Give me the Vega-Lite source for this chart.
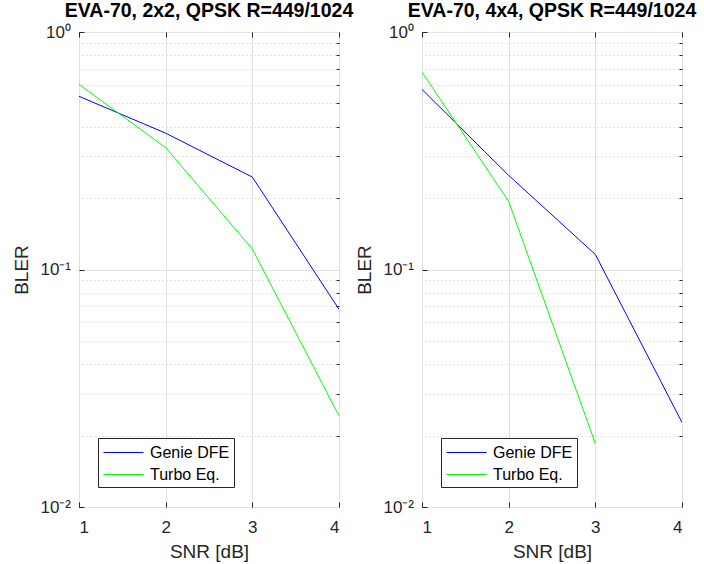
{
  "$schema": "https://vega.github.io/schema/vega-lite/v6.json",
  "background": "white",
  "padding": {"left": 12, "top": 0, "right": 5, "bottom": 5},
  "bounds": "flush",
  "spacing": 83,
  "config": {
    "font": "Liberation Sans",
    "view": {"stroke": "#262626", "strokeWidth": 1},
    "axis": {
      "labelFont": "Liberation Sans", "titleFont": "Liberation Sans",
      "labelFontSize": 17, "titleFontSize": 19, "titleFontWeight": "normal",
      "labelColor": "#262626", "titleColor": "#262626",
      "domain": false, "tickColor": "#262626",
      "gridColor": "#e0e0e0", "gridOpacity": 1
    },
    "title": {"font": "Liberation Sans", "fontSize": 19.5, "fontWeight": "bold", "color": "#000000", "anchor": "middle", "offset": 2}
  },
  "datasets": {
    "d2": [
      {"snr": 1, "bler": 0.536, "method": "Genie DFE"},
      {"snr": 2, "bler": 0.375, "method": "Genie DFE"},
      {"snr": 3, "bler": 0.245, "method": "Genie DFE"},
      {"snr": 4, "bler": 0.068, "method": "Genie DFE"},
      {"snr": 1, "bler": 0.602, "method": "Turbo Eq."},
      {"snr": 2, "bler": 0.326, "method": "Turbo Eq."},
      {"snr": 3, "bler": 0.122, "method": "Turbo Eq."},
      {"snr": 4, "bler": 0.0242, "method": "Turbo Eq."}
    ],
    "d4": [
      {"snr": 1, "bler": 0.573, "method": "Genie DFE"},
      {"snr": 2, "bler": 0.249, "method": "Genie DFE"},
      {"snr": 3, "bler": 0.1157, "method": "Genie DFE"},
      {"snr": 4, "bler": 0.0227, "method": "Genie DFE"},
      {"snr": 1, "bler": 0.678, "method": "Turbo Eq."},
      {"snr": 2, "bler": 0.1934, "method": "Turbo Eq."},
      {"snr": 3, "bler": 0.0185, "method": "Turbo Eq."}
    ]
  },
  "resolve": {"legend": {"color": "independent"}},
  "hconcat": [
    {
      "width": 260, "height": 475,
      "title": "EVA-70, 2x2, QPSK R=449/1024",
      "data": {"name": "d2"},
      "resolve": {"axis": {"x": "independent", "y": "independent"}},
      "layer": [
        {
          "mark": {"type": "line", "strokeOpacity": 0},
          "encoding": {
            "x": {"field": "snr", "type": "quantitative", "scale": {"domain": [1, 4], "nice": false},
              "axis": {"orient": "top", "values": [1, 2, 3, 4], "labels": false, "title": null, "grid": false, "tickSize": -5}},
            "y": {"field": "bler", "type": "quantitative", "scale": {"type": "log", "domain": [0.01, 1], "nice": false},
              "axis": {"orient": "right", "values": [0.02, 0.03, 0.04, 0.05, 0.06, 0.07, 0.08, 0.09, 0.2, 0.3, 0.4, 0.5, 0.6, 0.7, 0.8, 0.9], "labels": false, "title": null, "grid": true, "gridDash": [1, 3], "gridColor": "#c8c8c8", "tickSize": -3}},
            "detail": {"field": "method"}
          }
        },
        {
          "mark": {"type": "line", "strokeWidth": 1, "clip": true},
          "encoding": {
            "x": {"field": "snr", "type": "quantitative", "scale": {"domain": [1, 4], "nice": false},
              "axis": {"orient": "bottom", "values": [1, 2, 3, 4], "title": "SNR [dB]", "grid": true, "tickSize": -5, "labelPadding": 17, "titlePadding": 7}},
            "y": {"field": "bler", "type": "quantitative", "scale": {"type": "log", "domain": [0.01, 1], "nice": false},
              "axis": {"orient": "left", "values": [0.01, 0.1, 1], "title": "BLER", "grid": true, "tickSize": -5, "labelPadding": 13.5, "titlePadding": 8,
                "labelExpr": "datum.value >= 0.99 ? '10⁰' : datum.value >= 0.099 ? '10⁻¹' : '10⁻²'"}},
            "color": {"field": "method", "type": "nominal",
              "scale": {"domain": ["Genie DFE", "Turbo Eq."], "range": ["#0000ff", "#00ff00"]},
              "legend": {"orient": "none", "legendX": 19, "legendY": 406, "title": null, "fillColor": "white", "strokeColor": "#262626", "padding": 4, "symbolType": "M-2,0H2", "symbolSize": 400, "symbolStrokeWidth": 1, "symbolOffset": 11, "labelOffset": 16, "labelFontSize": 16, "labelColor": "#000000", "labelFont": "Liberation Sans", "rowPadding": 3}}
          }
        }
      ]
    },
    {
      "width": 260, "height": 475,
      "title": "EVA-70, 4x4, QPSK R=449/1024",
      "data": {"name": "d4"},
      "resolve": {"axis": {"x": "independent", "y": "independent"}},
      "layer": [
        {
          "mark": {"type": "line", "strokeOpacity": 0},
          "encoding": {
            "x": {"field": "snr", "type": "quantitative", "scale": {"domain": [1, 4], "nice": false},
              "axis": {"orient": "top", "values": [1, 2, 3, 4], "labels": false, "title": null, "grid": false, "tickSize": -5}},
            "y": {"field": "bler", "type": "quantitative", "scale": {"type": "log", "domain": [0.01, 1], "nice": false},
              "axis": {"orient": "right", "values": [0.02, 0.03, 0.04, 0.05, 0.06, 0.07, 0.08, 0.09, 0.2, 0.3, 0.4, 0.5, 0.6, 0.7, 0.8, 0.9], "labels": false, "title": null, "grid": true, "gridDash": [1, 3], "gridColor": "#c8c8c8", "tickSize": -3}},
            "detail": {"field": "method"}
          }
        },
        {
          "mark": {"type": "line", "strokeWidth": 1, "clip": true},
          "encoding": {
            "x": {"field": "snr", "type": "quantitative", "scale": {"domain": [1, 4], "nice": false},
              "axis": {"orient": "bottom", "values": [1, 2, 3, 4], "title": "SNR [dB]", "grid": true, "tickSize": -5, "labelPadding": 17, "titlePadding": 7}},
            "y": {"field": "bler", "type": "quantitative", "scale": {"type": "log", "domain": [0.01, 1], "nice": false},
              "axis": {"orient": "left", "values": [0.01, 0.1, 1], "title": "BLER", "grid": true, "tickSize": -5, "labelPadding": 13.5, "titlePadding": 8,
                "labelExpr": "datum.value >= 0.99 ? '10⁰' : datum.value >= 0.099 ? '10⁻¹' : '10⁻²'"}},
            "color": {"field": "method", "type": "nominal",
              "scale": {"domain": ["Genie DFE", "Turbo Eq."], "range": ["#0000ff", "#00ff00"]},
              "legend": {"orient": "none", "legendX": 19, "legendY": 406, "title": null, "fillColor": "white", "strokeColor": "#262626", "padding": 4, "symbolType": "M-2,0H2", "symbolSize": 400, "symbolStrokeWidth": 1, "symbolOffset": 11, "labelOffset": 16, "labelFontSize": 16, "labelColor": "#000000", "labelFont": "Liberation Sans", "rowPadding": 3}}
          }
        }
      ]
    }
  ]
}
